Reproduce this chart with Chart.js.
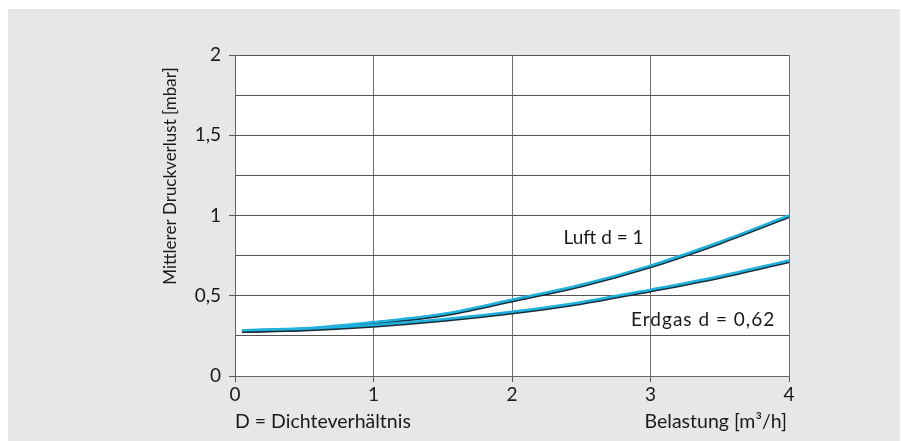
<!DOCTYPE html>
<html>
<head>
<meta charset="utf-8">
<script src="https://cdn.jsdelivr.net/npm/chart.js@4.4.0/dist/chart.umd.min.js"></script>
<style>
  html, body { margin: 0; padding: 0; background: #ffffff; }
  canvas { display: block; }
</style>
</head>
<body>
<canvas id="c" width="901" height="441"></canvas>
<script>
// ---- data ----
const xValues   = [0.05, 0.5, 1, 1.5, 2, 2.5, 3, 3.5, 4];
const luftVals  = [0.285, 0.297, 0.336, 0.386, 0.475, 0.568, 0.688, 0.835, 1.0];
const erdgasVals= [0.285, 0.295, 0.318, 0.353, 0.40, 0.46, 0.538, 0.622, 0.72];
const seriesLabels = ['Luft d = 1', 'Erdgas d = 0,62'];
const yTitle = 'Mittlerer Druckverlust [mbar]';
const xNoteLeft = 'D = Dichteverhältnis';
const xNoteRight = 'Belastung [m³/h]';
const yTickLabels = {0: '0', 0.5: '0,5', 1: '1', 1.5: '1,5', 2: '2'};
const xTickLabels = {0: '0', 1: '1', 2: '2', 3: '3', 4: '4'};

const FONT = 'Lato, "Open Sans", sans-serif';
const TEXT = '#1a1a1a';

const bgPlugin = {
  id: 'bg',
  beforeDraw(chart) {
    const ctx = chart.ctx;
    const a = chart.chartArea;
    ctx.save();
    ctx.fillStyle = '#e6e7e8';
    ctx.fillRect(8, 9, 892, 432);
    ctx.fillStyle = '#ffffff';
    ctx.fillRect(a.left, a.top, a.right - a.left, a.bottom - a.top);
    ctx.restore();
  }
};

const shadowPlugin = {
  id: 'lineShadow',
  beforeDatasetDraw(chart) {
    const ctx = chart.ctx;
    ctx.save();
    ctx.shadowColor = '#1c2c38';
    ctx.shadowOffsetY = 1.5;
    ctx.shadowOffsetX = 0;
    ctx.shadowBlur = 0;
  },
  afterDatasetDraw(chart) {
    chart.ctx.restore();
  }
};

const textPlugin = {
  id: 'texts',
  afterDraw(chart) {
    const ctx = chart.ctx;
    const xs = chart.scales.x, ys = chart.scales.y;
    const a = chart.chartArea;
    ctx.save();
    ctx.fillStyle = TEXT;
    ctx.textBaseline = 'middle';
    // y title
    ctx.save();
    ctx.font = '17px ' + FONT;
    ctx.translate(171, 176);
    ctx.rotate(-Math.PI / 2);
    ctx.textAlign = 'center';
    ctx.fillText(yTitle, 0, 0);
    ctx.restore();
    // bottom notes
    ctx.font = '19.5px ' + FONT;
    ctx.textAlign = 'left';
    ctx.fillText(xNoteLeft, a.left, 422);
    ctx.textAlign = 'right';
    ctx.fillText(xNoteRight, a.right - 2, 422);
    // series labels
    ctx.font = '19px ' + FONT;
    ctx.textAlign = 'right';
    ctx.fillText(seriesLabels[0], xs.getPixelForValue(2.95), ys.getPixelForValue(0.86));
    ctx.textAlign = 'left';
    ctx.letterSpacing = '1px';
    ctx.fillText(seriesLabels[1], xs.getPixelForValue(2.86), ys.getPixelForValue(0.35));
    ctx.restore();
  }
};

function pts(vals) { return xValues.map((x, i) => ({x: x, y: vals[i]})); }

new Chart(document.getElementById('c'), {
  type: 'line',
  data: {
    datasets: [
      { label: seriesLabels[1], data: pts(erdgasVals), borderColor: '#20b2dc', borderWidth: 2.5,
        pointRadius: 0, fill: false, cubicInterpolationMode: 'monotone' },
      { label: seriesLabels[0], data: pts(luftVals), borderColor: '#20b2dc', borderWidth: 2.5,
        pointRadius: 0, fill: false, cubicInterpolationMode: 'monotone' }
    ]
  },
  options: {
    responsive: false,
    animation: false,
    devicePixelRatio: 1,
    layout: { padding: { left: 0, top: 55, right: 112, bottom: 33 } },
    plugins: { legend: { display: false }, tooltip: { enabled: false } },
    scales: {
      x: {
        type: 'linear', min: 0, max: 4,
        afterFit(s) { s.height = 32; },
        ticks: { stepSize: 1, color: TEXT, font: { family: FONT, size: 19 }, padding: 1,
          callback: v => xTickLabels[v] ?? '' },
        grid: { color: '#707070', lineWidth: 1, tickLength: 6, tickColor: '#555' },
        border: { color: '#666', width: 1 }
      },
      y: {
        min: 0, max: 2,
        afterFit(s) { s.width = 235; },
        ticks: { stepSize: 0.25, color: TEXT, font: { family: FONT, size: 19 }, padding: 8,
          callback: v => yTickLabels[v] ?? '' },
        grid: { color: '#555', lineWidth: 1, tickLength: 6,
          tickColor: ctx => (yTickLabels[ctx.tick && ctx.tick.value] !== undefined ? '#555' : 'rgba(0,0,0,0)') },
        border: { color: '#666', width: 1 }
      }
    }
  },
  plugins: [bgPlugin, shadowPlugin, textPlugin]
});
</script>
</body>
</html>
